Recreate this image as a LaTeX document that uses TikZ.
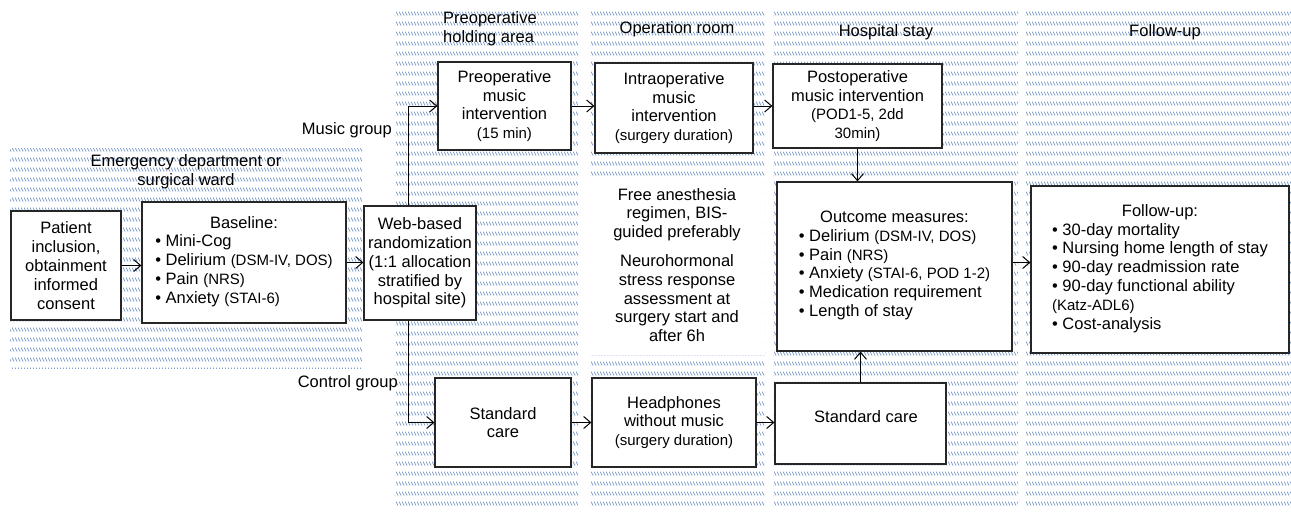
\documentclass[tikz,border=0pt]{standalone}
\usepackage{fontspec}
\setmainfont{Liberation Sans}
\usetikzlibrary{arrows.meta,patterns}
\pgfdeclarepatternformonly{rowhatch}{\pgfqpoint{0pt}{0pt}}{\pgfqpoint{3pt}{9.6pt}}{\pgfqpoint{3pt}{9.6pt}}{%
  \pgfsetlinewidth{0.85pt}%
  \pgfpathmoveto{\pgfqpoint{0.2pt}{4.6pt}}%
  \pgfpathlineto{\pgfqpoint{2.8pt}{0.5pt}}%
  \pgfusepath{stroke}}
\definecolor{hatchblue}{RGB}{115,150,200}
\newcommand\smq[1]{{\fontsize{15}{17.5}\selectfont #1}}
\begin{document}
\begin{tikzpicture}[x=1pt,y=-1pt,
  box/.style={draw=black!85,line width=1.2pt,fill=white,align=center,inner sep=0pt},
  txt/.style={align=center,inner sep=0pt},
  arr/.style={draw=black,line width=1pt,-{Straight Barb[length=7pt,width=12pt,line width=1pt]}},
  panel/.style={pattern=rowhatch,pattern color=hatchblue},
  font=\fontsize{16.5}{18.8}\selectfont]
\useasboundingbox (0,0) rectangle (1291,515);
\fill[white] (0,0) rectangle (1291,515);
% panels
\path[panel] (10,148) rectangle (362,368);
\path[panel] (395,10) rectangle (578,510);
\path[panel] (590,10) rectangle (765,510);
\fill[white] (590,176) rectangle (765,355);
\path[panel] (773,10) rectangle (1018,510);
\path[panel] (1025,10) rectangle (1291,510);
% headers
\node[txt] (hED) at (186,172) {Emergency department or\\surgical ward};
\node[txt,align=left,anchor=west] (hPre) at (443,29) {Preoperative\\holding area};
\node[txt] (hOR) at (677,29) {Operation room};
\node[txt] (hHS) at (886,32) {Hospital stay};
\node[txt] (hFU) at (1165,32) {Follow-up};
% group labels
\node[txt,anchor=east] (lMus) at (392,130) {Music group};
\node[txt,anchor=east] (lCon) at (398,383) {Control group};
% boxes
\node[box,minimum width=110pt,minimum height=109pt] (pat) at (66,265.5)
  {Patient\\inclusion,\\obtainment\\informed\\consent};
\node[box,minimum width=204pt,minimum height=121pt] (base) at (244,262.5)
  {Baseline:\\\begin{tabular}[t]{@{}l@{}}• Mini-Cog\\• Delirium \smq{(DSM-IV, DOS)}\\• Pain \smq{(NRS)}\\• Anxiety \smq{(STAI-6)}\end{tabular}};
\node[box,minimum width=112pt,minimum height=114pt] (rand) at (420,263)
  {Web-based\\randomization\\(1:1 allocation\\stratified by\\hospital site)};
\node[box,minimum width=133pt,minimum height=88pt] (pre) at (504.5,106)
  {Preoperative\\music\\intervention\\\smq{(15 min)}};
\node[box,minimum width=158pt,minimum height=90pt] (intra) at (674,108)
  {Intraoperative\\music\\intervention\\\smq{(surgery duration)}};
\node[box,minimum width=169pt,minimum height=84pt] (post) at (857.5,106)
  {Postoperative\\music intervention\\\smq{(POD1-5, 2dd}\\\smq{30min)}};
\node[txt] (free) at (677,265)
  {Free anesthesia\\regimen, BIS-\\guided preferably\\[10pt]Neurohormonal\\stress response\\assessment at\\surgery start and\\after 6h};
\node[box,minimum width=235pt,minimum height=169pt] (out) at (894.5,266.5)
  {Outcome measures:\\\begin{tabular}[t]{@{}l@{}}• Delirium \smq{(DSM-IV, DOS)}\\• Pain \smq{(NRS)}\\• Anxiety \smq{(STAI-6, POD 1-2)}\\• Medication requirement\\• Length of stay\end{tabular}};
\node[box,minimum width=258pt,minimum height=167pt] (fu) at (1160,269.5)
  {Follow-up:\\\begin{tabular}[t]{@{}l@{}}• 30-day mortality\\• Nursing home length of stay\\• 90-day readmission rate\\• 90-day functional ability\\\smq{(Katz-ADL6)}\\• Cost-analysis\end{tabular}};
\node[box,minimum width=136pt,minimum height=89pt] (sc1) at (503,422.5)
  {Standard\\care};
\node[box,minimum width=164pt,minimum height=89pt] (hp) at (674,422.5)
  {Headphones\\without music\\\smq{(surgery duration)}};
\node[box,minimum width=171pt,minimum height=81pt] (sc2) at (860.5,423.5) {};
\node[txt] (sc2t) at (866,417) {Standard care};
% connectors
\draw[arr] (pat.east) -- (pat.east -| base.west);
\draw[arr] (base.east) -- (base.east -| rand.west);
\draw[arr] ([xshift=-12pt]rand.north) |- (pre.west);
\draw[arr] ([xshift=-12pt]rand.south) |- (sc1.west);
\draw[arr] (pre.east) -- (pre.east -| intra.west);
\draw[arr] (intra.east |- post.west) -- (post.west);
\draw[arr] (post.south) -- (post.south |- out.north);
\draw[arr] (sc1.east) -- (sc1.east -| hp.west);
\draw[arr] (hp.east) -- (hp.east -| sc2.west);
\draw[arr] (sc2.north) -- (sc2.north |- out.south);
\draw[arr] ([yshift=4pt]out.east) -- ([yshift=4pt]out.east -| fu.west);
\end{tikzpicture}
\end{document}
